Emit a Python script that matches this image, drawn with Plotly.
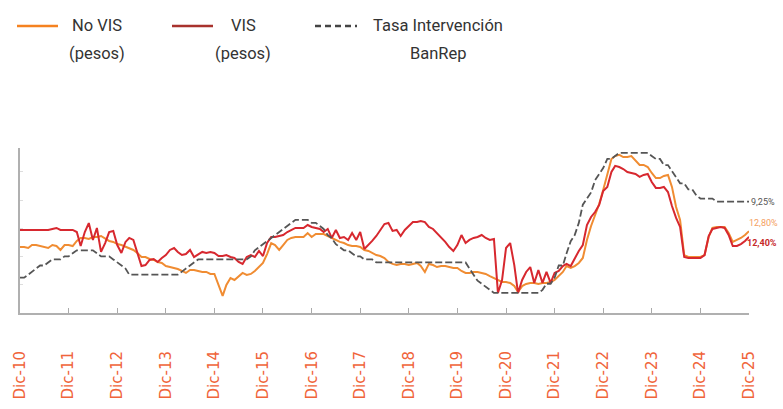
import pandas as pd
import plotly.graph_objects as go

# ---------------- data ----------------
dates = pd.date_range("2010-12-01", periods=181, freq="MS")

tick_dates = [f"{y}-12-01" for y in range(2010, 2026)]
tick_labels = [f"Dic-{str(y)[2:]}" for y in range(2010, 2026)]

no_vis = [
    11.68, 11.68, 11.61, 11.82, 11.82, 11.75, 11.68, 11.61, 11.82, 11.75, 11.47, 11.82, 11.82,  # Dic-10..Dic-11
    11.75, 12.11, 12.32, 12.32, 12.25, 12.39, 12.39, 12.46, 12.25, 12.11, 12.04, 11.89,         # ..Dic-12
    11.82, 11.68, 11.61, 11.47, 11.26, 10.97, 10.97, 10.83, 10.76, 10.62, 10.55, 10.33,         # ..Dic-13
    10.26, 10.19, 10.12, 9.98, 9.84, 10.05, 10.05, 9.98, 9.91, 9.91, 9.77, 9.77,                # ..Dic-14
    8.99, 8.21, 8.99, 9.48, 9.34, 9.62, 9.84, 9.70, 9.77, 9.98, 10.26, 10.55,                   # ..Dic-15
    11.18, 11.96, 11.82, 11.47, 11.82, 12.18, 12.32, 12.39, 12.39, 12.39, 12.67, 12.39,         # ..Dic-16
    12.60, 12.60, 12.60, 12.46, 12.32, 12.18, 12.04, 11.96, 11.82, 11.75, 11.75, 11.68,         # ..Dic-17
    11.47, 11.40, 11.26, 11.11, 11.04, 10.90, 10.62, 10.48, 10.40, 10.48, 10.48, 10.40,         # ..Dic-18
    10.48, 10.55, 10.33, 9.91, 10.48, 10.40, 10.26, 10.33, 10.33, 10.26, 10.19, 10.19,          # ..Dic-19
    9.98, 9.84, 9.84, 9.91, 9.91, 9.84, 9.77, 9.62, 9.48, 9.34, 9.20, 9.20,                     # ..Dic-20
    9.13, 8.91, 8.49, 8.91, 9.06, 9.13, 9.13, 9.06, 9.13, 9.13, 9.20, 9.34,                     # ..Dic-21
    9.62, 9.91, 10.33, 10.19, 10.33, 10.55, 10.90, 12.18, 13.17, 13.88, 14.73, 15.72,           # ..Dic-22
    16.93, 17.92, 18.13, 18.21, 18.06, 18.06, 18.13, 17.85, 17.50, 17.50, 17.35, 16.93,         # ..Dic-23
    16.57, 16.57, 16.72, 16.79, 15.94, 14.52, 13.60, 11.11, 10.97, 10.97, 10.97, 10.97,         # ..Dic-24
    11.11, 12.39, 13.03, 13.10, 13.10, 13.10, 12.67, 12.04, 12.18, 12.32, 12.53, 12.80,         # ..Dic-25
]

vis = [
    12.89, 12.89, 12.89, 12.89, 12.89, 12.89, 12.89, 12.89, 12.96, 13.03, 12.89, 12.89, 12.89,
    12.89, 12.74, 11.75, 12.74, 13.38, 12.18, 13.03, 11.33, 11.96, 12.74, 12.82, 11.82,
    11.26, 12.04, 12.32, 12.18, 11.33, 10.33, 10.40, 10.76, 10.83, 10.62, 10.90, 11.11,
    11.47, 11.61, 11.33, 11.11, 11.18, 11.47, 10.97, 11.18, 11.33, 11.26, 11.33, 11.26,
    11.04, 11.04, 11.11, 10.97, 10.90, 10.62, 10.48, 10.97, 11.11, 10.97, 11.40, 11.04,
    11.96, 12.39, 12.39, 12.46, 12.53, 12.74, 12.89, 13.03, 13.03, 13.03, 13.24, 13.10,
    13.03, 12.96, 12.74, 12.96, 12.32, 12.89, 12.32, 12.39, 12.18, 12.67, 12.18, 12.74,
    11.54, 11.82, 12.11, 12.46, 12.89, 13.31, 13.38, 12.82, 12.89, 12.46, 12.89, 13.17,
    13.45, 13.45, 13.52, 13.45, 13.10, 12.96, 12.67, 12.32, 12.04, 11.68, 11.40, 11.82,
    12.53, 11.96, 12.18, 12.32, 12.39, 12.53, 12.32, 12.18, 12.25, 8.42, 9.34, 11.61,
    11.96, 10.40, 8.42, 9.34, 9.91, 10.26, 9.13, 10.05, 9.13, 9.91, 9.13, 9.84,
    9.98, 10.33, 10.48, 10.33, 10.90, 11.40, 11.82, 13.24, 13.81, 14.16, 14.66, 15.65,
    15.94, 17.00, 17.43, 17.35, 17.21, 17.00, 16.93, 16.86, 16.65, 16.79, 16.86, 16.29,
    15.87, 15.87, 15.94, 15.58, 14.59, 13.74, 13.10, 10.97, 10.90, 10.90, 10.90, 10.90,
    11.11, 12.46, 12.96, 13.03, 13.10, 13.03, 12.53, 11.75, 11.75, 11.89, 12.11, 12.40,
]

banrep = [
    3.00, 3.00, 3.25, 3.50, 3.75, 4.00, 4.00, 4.25, 4.50, 4.50, 4.50, 4.75, 4.75,
    5.00, 5.25, 5.25, 5.25, 5.25, 5.25, 5.00, 4.75, 4.75, 4.75, 4.50, 4.25,
    4.00, 3.75, 3.25, 3.25, 3.25, 3.25, 3.25, 3.25, 3.25, 3.25, 3.25, 3.25,
    3.25, 3.25, 3.25, 3.50, 3.75, 4.00, 4.25, 4.50, 4.50, 4.50, 4.50, 4.50,
    4.50, 4.50, 4.50, 4.50, 4.50, 4.50, 4.50, 4.50, 4.75, 5.25, 5.50, 5.75,
    6.00, 6.25, 6.50, 6.75, 7.00, 7.25, 7.50, 7.75, 7.75, 7.75, 7.75, 7.50,
    7.50, 7.25, 7.00, 6.50, 6.25, 5.75, 5.50, 5.25, 5.25, 5.00, 4.75, 4.75,
    4.50, 4.50, 4.50, 4.25, 4.25, 4.25, 4.25, 4.25, 4.25, 4.25, 4.25, 4.25,
    4.25, 4.25, 4.25, 4.25, 4.25, 4.25, 4.25, 4.25, 4.25, 4.25, 4.25, 4.25,
    4.25, 4.25, 3.75, 3.25, 2.75, 2.50, 2.25, 2.00, 1.75, 1.75, 1.75, 1.75,
    1.75, 1.75, 1.75, 1.75, 1.75, 1.75, 1.75, 1.75, 2.00, 2.50, 2.50, 3.00,
    4.00, 4.00, 5.00, 6.00, 6.50, 7.50, 9.00, 9.50, 10.00, 11.00, 11.50, 12.00,
    12.75, 12.75, 13.00, 13.25, 13.25, 13.25, 13.25, 13.25, 13.25, 13.25, 13.25, 13.00,
    12.75, 12.75, 12.25, 12.25, 11.75, 11.25, 10.75, 10.75, 10.25, 10.25, 9.75, 9.50,
    9.50, 9.50, 9.50, 9.25, 9.25, 9.25, 9.25, 9.25, 9.25, 9.25, 9.25, 9.25,
]

series_names = ["No VIS", "VIS", "Tasa Intervención"]
legend_lines = [["No VIS", "(pesos)"], ["VIS", "(pesos)"], ["Tasa Intervención", "BanRep"]]
end_labels = ["12,80%", "12,40%", "9,25%"]

# ---------------- styles / layout helpers ----------------
W, H = 783, 409
L, R, T, B = 20, 34, 148, 96
PW, PH = W - L - R, H - T - B

def px(x):
    return (x - L) / PW

def py(y):
    return (H - B - y) / PH

C_NOVIS = "#F08C32"
C_VIS = "#D7282F"
C_BAN = "#555555"
C_TICK = "#F0643A"
TXT = "#333333"
LEG_FONT = "Roboto, sans-serif"

fig = go.Figure()
fig.add_trace(go.Scatter(x=dates, y=banrep, name=series_names[2], yaxis="y2",
                         mode="lines", line=dict(color=C_BAN, width=1.8, dash="7px,3px")))
fig.add_trace(go.Scatter(x=dates, y=no_vis, name=series_names[0],
                         mode="lines", line=dict(color=C_NOVIS, width=2)))
fig.add_trace(go.Scatter(x=dates, y=vis, name=series_names[1],
                         mode="lines", line=dict(color=C_VIS, width=2)))

# custom legend (centered two-line labels)
shapes = []
annotations = []
leg_items = [
    (17, 58, 97, "#F58220", "solid"),
    (172, 213, 243, "#A8322D", "solid"),
    (315, 357, 438, "#444444", "6px,4px"),
]
for (x0, x1, xc, col, dash), lines in zip(leg_items, legend_lines):
    shapes.append(dict(type="line", xref="paper", yref="paper",
                       x0=px(x0), x1=px(x1), y0=py(26), y1=py(26),
                       line=dict(color=col, width=2.5, dash=dash)))
    for txt, yy in zip(lines, (26, 53)):
        annotations.append(dict(text=txt, xref="paper", yref="paper", x=px(xc), y=py(yy),
                                xanchor="center", yanchor="middle", showarrow=False,
                                font=dict(family=LEG_FONT, size=16.5, color=TXT)))

# end-of-line labels
annotations.append(dict(text=end_labels[2], xref="paper", yref="y2", x=px(749), y=banrep[-1],
                        xanchor="left", yanchor="middle", showarrow=False,
                        font=dict(family="Roboto", size=9, color="#555555")))
annotations.append(dict(text=end_labels[0], xref="paper", yref="paper", x=px(747), y=py(223),
                        xanchor="left", yanchor="middle", showarrow=False,
                        font=dict(family="Roboto", size=9, color="#F4A062")))
annotations.append(dict(text="<b>" + end_labels[1] + "</b>", xref="paper", yref="paper", x=px(745), y=py(243),
                        xanchor="left", yanchor="middle", showarrow=False,
                        font=dict(family="Roboto", size=9, color="#C62828")))

fig.update_layout(
    width=W, height=H,
    margin=dict(l=L, r=R, t=T, b=B, autoexpand=False),
    paper_bgcolor="white", plot_bgcolor="white",
    showlegend=False,
    shapes=shapes, annotations=annotations,
    xaxis=dict(
        type="date", range=[dates[0], dates[-1]],
        tickvals=tick_dates, ticktext=tick_labels, tickangle=-90,
        ticks="inside", ticklen=5, tickcolor="#aaaaaa", tickwidth=1,
        showline=True, linecolor="#b0b0b0", linewidth=2,
        showgrid=False, zeroline=False, automargin=False,
        tickfont=dict(family="DejaVu Sans", size=15, color=C_TICK),
        ticklabelstandoff=30,
    ),
    yaxis=dict(
        range=[7.0, 18.7], tickvals=[7, 9, 11, 13, 15, 17],
        ticks="inside", ticklen=3, tickcolor="#dddddd",
        showticklabels=False, showline=True, linecolor="#b0b0b0", linewidth=2,
        showgrid=False, zeroline=False, automargin=False,
    ),
    yaxis2=dict(range=[0.1, 13.65], overlaying="y", visible=False),
)

fig.write_html("out.html", config={"displayModeBar": False},
               post_script="document.body.style.margin='0px';")
